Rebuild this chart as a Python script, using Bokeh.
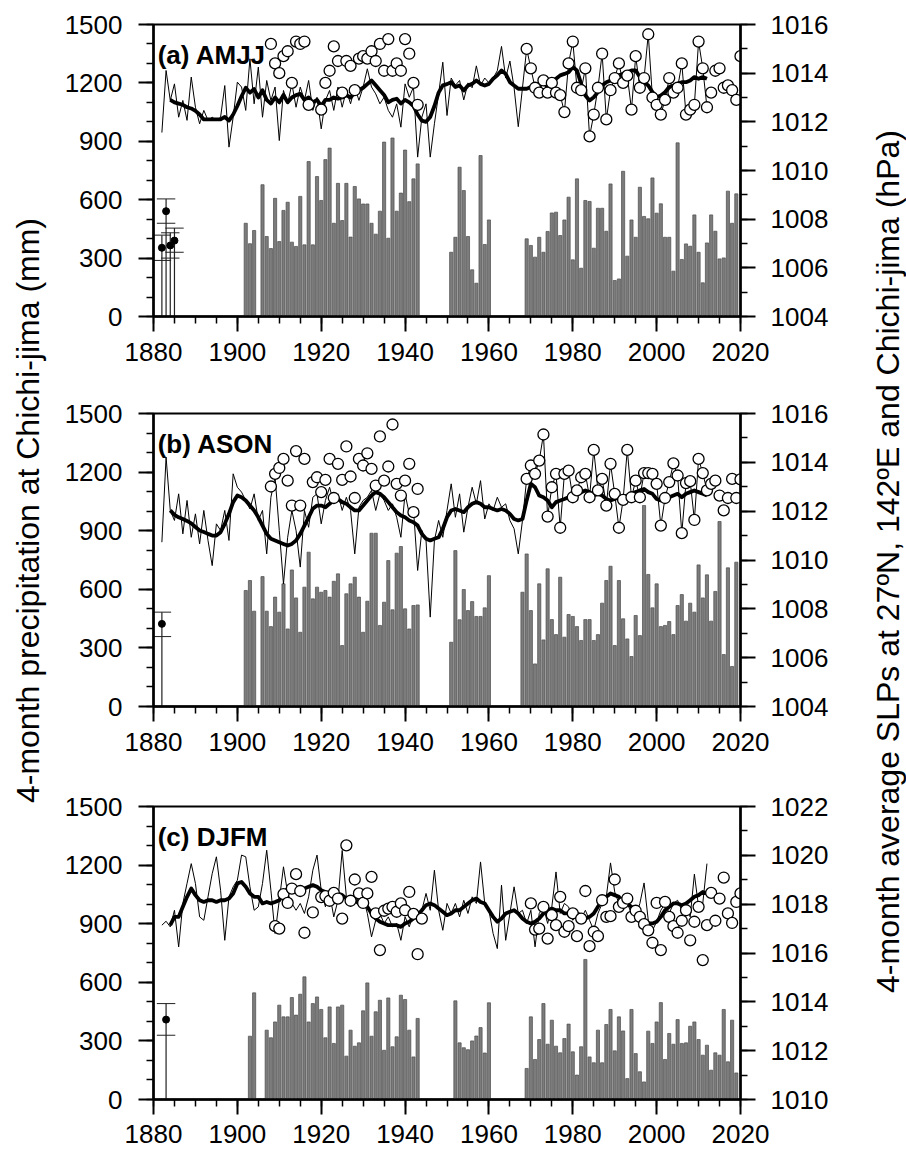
import math
from bokeh.plotting import figure
from bokeh.layouts import row, column
from bokeh.models import Range1d, LinearAxis, SingleIntervalTicker, Label
from bokeh.core.properties import value
from bokeh.embed import file_html
from bokeh.resources import INLINE

FONT = "Liberation Sans"
N = None

# ------------------------------------------------------------------ data
# ---- (a) AMJJ ----
a_bar1_start = 1902
a_bar1 = [479, 374, 442, N, 677, 411, 349, 607, 385, 545, 587, 382, 360, 617, 368, 796, 368, 719, 596, 806,
          865, 479, 684, 493, 684, 408, 668, 604, 578, 578, 479, 423, 541, 896, 402, 917, 541, 634, 855, 590,
          707, 784]
a_bar2_start = 1951
a_bar2 = [330, 407, 767, 647, 411, 240, 171, 827, 370, 496]
a_bar3_start = 1969
a_bar3 = [399, 365, 305, 407, 330, 437, 532, 536, 416, 496, 613, 291, 707, 248, 596, 591, 351, 556, 556, 438,
          681, 185, 193, 746, 310, 496, 407, 664, 514, 502, 712, 531, 579, 407, 407, 233, 892, 293, 373, 361,
          522, 330, 173, 378, 522, 438, 296, 301, 644, 479, 630]
a_early_years = [1882, 1883, 1884, 1885]
a_early_val = [353, 541, 365, 390]
a_early_hi = [418, 604, 430, 454]
a_early_lo = [288, 479, 300, 330]
a_thin_start = 1882
a_thin = [1011.56, 1014.11, 1012.88, 1013.56, 1012.19, 1012.88, 1012.06, 1013.84, 1012.60, 1011.92,
          1012.47, 1012.06, 1012.19, 1012.06, 1012.19, 1013.49, 1010.96, 1012.19, 1013.63, 1013.43,
          1012.47, 1014.59, 1012.74, 1014.25, 1012.19, 1013.70, 1012.88, 1013.43, 1011.23, 1013.29,
          1012.74, 1013.56, 1012.60, 1013.43, 1012.88, 1013.70, 1012.47, 1013.01, 1011.71, 1012.88,
          1013.29, 1012.47, 1013.43, 1012.60, 1013.29, 1012.74, 1013.43, 1012.88, 1013.43, 1014.18,
          1013.43, 1013.15, 1012.74, 1013.01, 1012.47, 1012.19, 1012.74, 1011.78, 1013.56, 1013.01,
          1013.43, 1010.55, 1012.19, 1012.74, 1010.55, 1011.92, 1013.15, 1014.45, 1012.26,
          1013.8, 1013.5, 1013.7, 1012.9, 1013.6, 1013.4, 1014.3, 1013.5, 1013.8, 1013.6,
          1013.8, 1014.1, 1015.1, 1013.8, 1014.5, 1013.4, 1011.8, 1013.4,
          1015.0, 1014.2, 1013.4, 1013.2, 1013.7, 1013.2, 1013.6, 1013.2, 1013.1, 1012.4,
          1014.4, 1015.3, 1013.4, 1013.3, 1014.2, 1011.4, 1012.3, 1013.4, 1014.8, 1012.1,
          1013.3, 1013.8, 1014.4, 1013.6, 1013.9, 1012.5, 1014.7, 1013.4, 1013.8, 1015.6,
          1013.0, 1012.7, 1012.3, 1012.9, 1013.8, 1013.2, 1013.4, 1014.4, 1012.3, 1012.5,
          1012.7, 1015.3, 1014.2, 1012.6]
a_thick_start = 1884
a_thick = [1012.9, 1012.8, 1012.75, 1012.7, 1012.6, 1012.55, 1012.45, 1012.3, 1012.1, 1012.1,
           1012.1, 1012.1, 1012.1, 1012.2, 1012.05, 1012.3, 1012.65, 1013.05, 1013.4, 1013.2,
           1013.35, 1013.0, 1013.3, 1012.9, 1012.75, 1013.0, 1012.8, 1013.1, 1012.8, 1013.0,
           1013.1, 1013.15, 1012.9, 1013.0, 1012.8, 1012.9, 1012.65, 1012.9, 1012.9, 1013.0,
           1012.95, 1013.0, 1013.1, 1013.0, 1013.2, 1013.3, 1013.4, 1013.55, 1013.7, 1013.5,
           1013.3, 1013.1, 1012.8, 1012.9, 1012.95, 1012.75, 1012.9, 1012.8, 1012.65, 1012.3,
           1012.05, 1012.0, 1012.2, 1012.65, 1013.2, 1013.5, 1013.55,
           1013.63, 1013.43, 1013.49, 1013.29, 1013.49, 1013.56, 1013.70, 1013.56, 1013.49, 1013.56,
           1013.77, 1013.91, 1014.11, 1013.97, 1013.63, 1013.49, 1013.36, 1013.36, 1013.36, 1013.43,
           1013.49, 1013.56, 1013.56, 1013.49, 1013.63, 1013.77, 1013.91, 1013.97, 1014.04, 1014.25,
           1014.11, 1013.56, 1013.08, 1012.88, 1013.01, 1013.22, 1013.49, 1013.63, 1013.70, 1013.84,
           1013.91, 1013.97, 1014.04, 1014.11, 1014.11, 1013.84, 1013.63, 1013.49, 1013.22, 1013.01,
           1013.08, 1013.22, 1013.43, 1013.49, 1013.56, 1013.63, 1013.63, 1013.70, 1013.84, 1013.77,
           1013.84, 1013.77]
a_circ1_start = 1908
a_circ1 = [1015.2, 1014.4, 1014.0, 1014.7, 1014.9, 1013.6, 1015.3, 1015.2, 1015.3, 1012.7,
           N, N, 1012.5, 1013.6, 1014.1, 1015.1, 1014.5, 1013.2, 1014.5, 1014.3,
           1013.3, 1014.6, 1014.7, 1014.6, 1014.9, 1014.5, 1015.2, 1014.1, 1015.4, 1014.1,
           1014.4, 1014.1, 1015.4, 1014.8, 1013.6, 1012.7]
a_circ2_start = 1969
a_circ2 = [1015.0, 1014.2, 1013.4, 1013.2, 1013.7, 1013.2, 1013.6, 1013.2, 1013.1, 1012.4,
           1014.4, 1015.3, 1013.4, 1013.3, 1014.2, 1011.4, 1012.3, 1013.4, 1014.8, 1012.1,
           1013.3, 1013.8, 1014.4, 1013.6, 1013.9, 1012.5, 1014.7, 1013.4, 1013.8, 1015.6,
           1013.0, 1012.7, 1012.3, 1012.9, 1013.8, 1013.2, 1013.4, 1014.4, 1012.3, 1012.5,
           1012.7, 1015.3, 1014.2, 1012.6, 1013.2, 1014.1, 1014.2, 1013.4, 1013.5, 1013.3,
           1012.9, 1014.7]

# ---- (b) ASON ----
b_bar1_start = 1902
b_bar1 = [594, 645, 488, N, 665, 488, 409, 560, 483, 628, 397, 699, 556, 380, 611, 790, 551, 611, 585, 594,
          560, 641, 679, 312, 577, 628, 662, 560, 380, 539, 887, 887, 415, 534, 747, 495, 785, 819, 500, 397,
          517, 520]
b_bar2_start = 1951
b_bar2 = [329, 798, 444, 599, 491, 537, 461, 461, 505, 670]
b_bar3_start = 1968
b_bar3 = [585, 781, 491, 218, 628, 341, 705, 445, 368, 662, 355, 471, 461, 409, 338, 445, 445, 338, 368, 529,
          645, 718, 312, 645, 449, 346, 256, 466, 363, 1029, 676, 505, 628, 409, 415, 435, 368, 517, 573, 437,
          529, 483, 725, 556, 674, 437, 589, 947, 266, 710, 205, 739]
b_early_years = [1882]
b_early_val = [423]
b_early_hi = [483]
b_early_lo = [358]
b_thin_start = 1882
b_thin = [1010.73, 1014.21, 1012.03, 1011.62, 1012.71, 1011.07, 1012.44, 1010.93, 1011.89, 1010.66,
          1012.03, 1010.80, 1009.77, 1011.48, 1011.21, 1012.03, 1010.80, 1013.53, 1012.98, 1012.78,
          1012.44, 1012.09, 1012.71, 1011.62, 1012.03, 1010.25, 1012.57, 1013.39, 1011.21, 1009.02,
          1010.93, 1012.03, 1011.21, 1009.71, 1012.03, 1011.34, 1012.57, 1012.71, 1011.48, 1012.44,
          1012.98, 1012.30, 1012.71, 1012.03, 1012.57, 1012.03, 1010.25, 1012.16, 1012.44, 1012.57,
          1012.85, 1012.03, 1012.71, 1012.44, 1012.03, 1012.30, 1011.75, 1010.93, 1012.71, 1011.89,
          1012.09, 1009.57, 1011.21, 1010.80, 1007.66, 1010.80, 1011.62, 1010.93, 1012.03,
          1013.12, 1011.75, 1012.71, 1011.14, 1012.16, 1012.98, 1012.30, 1013.25, 1011.68, 1012.30,
          1012.03, 1012.57, 1012.16, 1012.30, 1011.62, 1011.28, 1010.25, 1011.62,
          1013.32, 1013.87, 1013.53, 1014.07, 1015.14, 1011.78, 1012.98, 1013.53, 1011.32, 1013.53,
          1013.66, 1012.57, 1012.85, 1013.39, 1013.53, 1012.57, 1014.51, 1012.85, 1013.32, 1012.23,
          1013.94, 1012.71, 1011.32, 1012.46, 1014.51, 1012.57, 1013.25, 1012.57, 1013.56, 1013.56,
          1013.53, 1013.12, 1011.41, 1012.54, 1013.19, 1013.96, 1013.46, 1011.10, 1013.15, 1013.23,
          1011.64, 1014.14, 1013.56, 1012.85]
b_thick_start = 1884
b_thick = [1012.03, 1011.85, 1011.75, 1011.68, 1011.6, 1011.5, 1011.35, 1011.21, 1011.15, 1011.07,
           1011.0, 1011.0, 1011.14, 1011.48, 1011.89, 1012.37, 1012.64, 1012.57, 1012.44, 1012.23,
           1012.03, 1011.75, 1011.41, 1011.07, 1010.87, 1010.8, 1010.73, 1010.66, 1010.59, 1010.66,
           1010.8, 1011.07, 1011.41, 1011.75, 1012.1, 1012.23, 1012.23, 1012.16, 1012.3, 1012.44,
           1012.5, 1012.37, 1012.3, 1012.16, 1012.03, 1012.03, 1012.23, 1012.44, 1012.64, 1012.78,
           1012.71, 1012.57, 1012.37, 1012.16, 1011.96, 1011.82, 1011.75, 1011.62, 1011.55, 1011.41,
           1011.07, 1010.87, 1010.8, 1010.87, 1010.93, 1011.28, 1011.75,
           1012.03, 1012.09, 1012.03, 1011.96, 1012.16, 1012.30, 1012.37, 1012.30, 1012.16, 1012.16,
           1012.09, 1012.03, 1012.09, 1012.03, 1011.89, 1011.68, 1011.62, 1011.68, 1012.44, 1013.12,
           1012.98, 1012.64, 1012.57, 1012.44, 1012.16, 1012.37, 1012.44, 1012.50, 1012.57, 1012.64,
           1012.71, 1012.78, 1012.85, 1012.78, 1012.64, 1012.71, 1012.64, 1012.50, 1012.44, 1012.50,
           1012.57, 1012.57, 1012.64, 1012.71, 1012.78, 1012.85, 1012.91, 1012.78, 1012.71, 1012.50,
           1012.44, 1012.50, 1012.57, 1012.64, 1012.71, 1012.57, 1012.71, 1012.78, 1012.85, 1012.78,
           1012.71, 1012.64]
b_circ1_start = 1908
b_circ1 = [1013.01, 1013.53, 1013.77, 1014.14, 1013.25, 1012.23, 1014.46, 1012.23, 1014.14, N,
           1013.19, 1013.39, 1012.78, 1013.28, 1014.14, 1012.54, 1013.94, 1013.28, 1014.65, 1013.42,
           1012.54, 1014.14, 1013.87, 1014.37, 1013.73, 1013.05, 1015.06, 1013.25, 1013.83, 1015.55,
           1013.12, 1012.64, 1013.25, 1013.94, 1011.96, 1012.91]
b_circ2_start = 1969
b_circ2 = [1013.32, 1013.87, 1013.53, 1014.07, 1015.14, 1011.78, 1012.98, 1013.53, 1011.32, 1013.53,
           1013.66, 1012.57, 1012.85, 1013.39, 1013.53, 1012.57, 1014.51, 1012.85, 1013.32, 1012.23,
           1013.94, 1012.71, 1011.32, 1012.46, 1014.51, 1012.57, 1013.25, 1012.57, 1013.56, 1013.56,
           1013.53, 1013.12, 1011.41, 1012.54, 1013.19, 1013.96, 1013.46, 1011.10, 1013.15, 1013.23,
           1011.64, 1014.14, 1013.56, 1012.85, 1013.12, 1013.25, 1012.64, 1012.03, 1012.54, 1013.32,
           1012.54, 1013.3]

# ---- (c) DJFM ----
c_bar1_start = 1903
c_bar1 = [324, 546, N, N, 355, 316, 397, 483, 423, 423, 522, 432, 539, 628, 397, 491, 525, 461, 316, 474,
          287, 474, 483, 222, 355, 273, 290, 454, 597, 324, 449, 508, 252, 520, 270, 321, 534, 512, 355, 218,
          415]
c_bar2_start = 1952
c_bar2 = [505, 290, 265, 255, 300, 325, 368, 238, 495]
c_bar3_start = 1969
c_bar3 = [159, 423, 205, 307, 491, 283, 406, 273, 239, 312, 386, 244, 125, 270, 717, 218, 188, 355, 188, 384,
          461, 249, 423, 351, 107, 461, 235, 142, 90, 350, 287, 397, 496, 205, 338, 283, 409, 287, 290, 375,
          397, 307, 227, 278, 150, 239, 227, 461, 193, 406, 136]
c_early_years = [1883]
c_early_val = [409]
c_early_hi = [491]
c_early_lo = [329]
c_thin_start = 1882
c_thin = [1017.14, 1017.3, 1017.07, 1017.75, 1016.25, 1018.03, 1018.85, 1019.66, 1018.85, 1017.48,
          1017.34, 1018.30, 1019.25, 1019.94, 1018.57, 1016.52, 1018.30, 1018.71, 1018.98, 1020.01,
          1019.94, 1018.71, 1017.75, 1017.89, 1018.85, 1020.21, 1018.57, 1016.80, 1018.16, 1019.53,
          1018.44, 1018.03, 1017.75, 1018.03, 1017.62, 1018.30, 1019.39, 1020.01, 1018.57, 1017.89,
          1018.44, 1017.48, 1018.16, 1020.2, 1018.30, 1017.89, 1018.44, 1018.03, 1018.30, 1017.62,
          1016.66, 1017.34, 1017.62, 1017.21, 1017.48, 1017.07, 1017.21, 1016.52, 1017.48, 1017.07,
          1017.62, 1017.34, 1017.75, 1018.44, 1017.75, 1019.39, 1017.75, 1016.93, 1018.03,
          1017.62, 1018.03, 1017.48, 1018.16, 1017.62, 1018.30, 1018.03, 1019.73, 1018.03, 1017.75,
          1016.80, 1016.18, 1018.78, 1016.52, 1017.62, 1018.71, 1017.62, 1017.75, 1017.21, 1017.75,
          1016.25, 1017.62, 1017.89, 1017.21, 1017.89, 1019.32, 1017.62, 1018.03, 1017.89, 1017.34,
          1017.62, 1017.41, 1017.75, 1017.34, 1016.93, 1017.62, 1018.03, 1018.30, 1019.69, 1018.50,
          1018.03, 1018.16, 1018.03, 1017.62, 1017.48, 1018.03, 1018.87, 1017.34, 1016.93, 1017.28,
          1017.75, 1018.03, 1017.62, 1018.03, 1018.16, 1017.75, 1018.03, 1017.48, 1019.23, 1017.89,
          1018.03, 1019.66]
c_thick_start = 1884
c_thick = [1017.14, 1017.48, 1017.48, 1017.89, 1018.30, 1018.64, 1018.37, 1018.16, 1018.09, 1018.16,
           1018.16, 1018.09, 1018.16, 1018.16, 1018.23, 1018.44, 1018.85, 1018.91, 1018.71, 1018.44,
           1018.30, 1018.30, 1018.03, 1018.09, 1018.03, 1018.09, 1018.16, 1018.44, 1018.64, 1018.57,
           1018.50, 1018.57, 1018.64, 1018.71, 1018.78, 1018.71, 1018.57, 1018.50, 1018.44, 1018.37,
           1018.44, 1018.37, 1018.23, 1018.16, 1018.16, 1018.03, 1017.96, 1017.89, 1017.62, 1017.41,
           1017.28, 1017.21, 1017.14, 1017.14, 1017.14, 1017.07, 1017.21, 1017.28, 1017.41, 1017.55,
           1017.75, 1017.96, 1018.03, 1017.96, 1017.82, 1017.69, 1017.55,
           1017.62, 1017.75, 1017.75, 1017.89, 1018.03, 1018.16, 1018.23, 1018.09, 1018.03, 1017.75,
           1017.48, 1017.28, 1017.41, 1017.62, 1017.69, 1017.75, 1017.62, 1017.41, 1017.28, 1017.21,
           1017.28, 1017.41, 1017.62, 1017.75, 1017.82, 1017.75, 1017.75, 1017.62, 1017.62, 1017.69,
           1017.62, 1017.55, 1017.41, 1017.48, 1017.62, 1017.89, 1018.16, 1018.30, 1018.44, 1018.37,
           1018.30, 1018.09, 1018.03, 1017.89, 1017.75, 1017.55, 1017.34, 1017.21, 1017.21, 1017.28,
           1017.48, 1017.75, 1017.89, 1018.03, 1018.03, 1017.96, 1018.03, 1018.16, 1018.30, 1018.37,
           1018.50, 1018.44]
c_circ1_start = 1909
c_circ1 = [1017.10, 1017.00, 1018.41, 1018.05, 1018.64, 1019.23, 1018.54, 1016.83, N, 1017.66,
           N, 1018.29, 1018.33, 1018.14, 1018.46, 1018.23, 1017.41, 1020.41, 1018.14, 1019.01,
           1018.44, 1018.05, 1018.44, 1019.12, 1017.62, 1016.12, 1017.73, 1017.82, 1017.89, 1017.69,
           1018.03, 1017.75, 1018.50, 1017.6, 1015.95, 1017.41]
c_circ2_start = 1970
c_circ2 = [1018.03, 1016.96, 1017.00, 1017.89, 1016.59, 1017.55, 1017.14, 1018.30, 1016.87, 1017.10,
           1017.62, 1016.69, 1017.41, 1018.54, 1016.28, 1016.87, 1016.69, 1018.16, 1017.48, 1017.51,
           1019.01, 1017.89, 1018.05, 1018.23, 1017.48, 1017.73, 1017.48, 1017.18, 1016.93, 1016.42,
           1018.05, 1016.12, 1018.09, 1017.48, 1017.10, 1016.83, 1017.32, 1017.75, 1016.52, 1017.28,
           1017.89, 1015.71, 1017.14, 1018.46, 1017.32, 1018.23, 1019.09, 1017.62, 1017.23, 1018.09,
           1018.44]

panel_labels = ["(a) AMJJ", "(b) ASON", "(c) DJFM"]
slp_ranges = [(1004, 1016), (1004, 1016), (1010, 1022)]
y_label_left = "4-month precipitation at Chichi-jima (mm)"
y_label_right = "4-month average SLPs at 27ºN, 142ºE and Chichi-jima (hPa)"


def seg(start, vals):
    xs, ys = [], []
    for i, v in enumerate(vals):
        if v is not None:
            xs.append(start + i)
            ys.append(v)
    return xs, ys


def style_axis(ax, standoff):
    ax.axis_line_width = 2.5
    ax.axis_line_color = "black"
    ax.major_tick_line_width = 2
    ax.minor_tick_line_width = 1.5
    ax.major_tick_line_color = "black"
    ax.minor_tick_line_color = "black"
    ax.major_tick_out = 15
    ax.major_tick_in = 0
    ax.minor_tick_out = 7
    ax.minor_tick_in = 0
    ax.major_label_text_font = FONT
    ax.major_label_text_font_size = "26px"
    ax.major_label_text_color = "black"
    ax.major_label_standoff = standoff


PANEL_W = 805


def make_panel(idx, height, top, bottom, bottom_standoff, bars, early, thin, thick, circs):
    p = figure(width=PANEL_W, height=height, x_range=Range1d(1880, 2020), y_range=Range1d(0, 1500),
               toolbar_location=None, output_backend="svg",
               min_border_left=103, min_border_right=115, min_border_top=top, min_border_bottom=bottom)
    p.extra_y_ranges = {"slp": Range1d(*slp_ranges[idx])}
    p.xgrid.visible = False
    p.ygrid.visible = False
    p.outline_line_color = "black"
    p.outline_line_width = 2
    p.background_fill_color = "white"
    p.border_fill_color = "white"

    p.xaxis.ticker = SingleIntervalTicker(interval=20, num_minor_ticks=4)
    p.yaxis.ticker = SingleIntervalTicker(interval=300, num_minor_ticks=3)
    style_axis(p.xaxis[0], bottom_standoff)
    style_axis(p.yaxis[0], 16)
    rax = LinearAxis(y_range_name="slp", ticker=SingleIntervalTicker(interval=2, num_minor_ticks=2))
    style_axis(rax, 15)
    p.add_layout(rax, "right")

    # bars (precipitation)
    for start, vals in bars:
        xs, ys = seg(start, vals)
        p.vbar(x=xs, top=ys, bottom=0, width=0.75, fill_color="#7c7c7c", line_color="#4a4a4a",
               line_width=0.7)

    # early precipitation estimates with error bars
    ey, ev, ehi, elo = early
    p.segment(x0=ey, y0=[0] * len(ey), x1=ey, y1=ehi, line_color="#222222", line_width=1.2)
    p.segment(x0=[y - 2.2 for y in ey], y0=ehi, x1=[y + 2.2 for y in ey], y1=ehi,
              line_color="#222222", line_width=1)
    p.segment(x0=[y - 2.2 for y in ey], y0=elo, x1=[y + 2.2 for y in ey], y1=elo,
              line_color="#222222", line_width=1)
    p.scatter(x=ey, y=ev, size=7, marker="circle", fill_color="black", line_color="black")

    # SLP lines
    xs, ys = seg(*thin)
    p.line(xs, ys, y_range_name="slp", line_color="black", line_width=1.0)
    xs, ys = seg(*thick)
    p.line(xs, ys, y_range_name="slp", line_color="black", line_width=3.8, line_join="round")

    # Chichi-jima SLP
    for start, vals in circs:
        xs, ys = seg(start, vals)
        p.scatter(x=xs, y=ys, y_range_name="slp", size=11, marker="circle",
                  fill_color="white", line_color="black", line_width=1.3)

    p.add_layout(Label(x=1881, y=1345, text=panel_labels[idx], text_font=FONT,
                       text_font_size="26px", text_font_style="bold", text_color="black",
                       text_baseline="alphabetic", text_align="left"))
    return p


pa = make_panel(0, 397, 24, 81, 11,
                [(a_bar1_start, a_bar1), (a_bar2_start, a_bar2), (a_bar3_start, a_bar3)],
                (a_early_years, a_early_val, a_early_hi, a_early_lo),
                (a_thin_start, a_thin), (a_thick_start, a_thick),
                [(a_circ1_start, a_circ1), (a_circ2_start, a_circ2)])
pb = make_panel(1, 391, 16, 82, 11,
                [(b_bar1_start, b_bar1), (b_bar2_start, b_bar2), (b_bar3_start, b_bar3)],
                (b_early_years, b_early_val, b_early_hi, b_early_lo),
                (b_thin_start, b_thin), (b_thick_start, b_thick),
                [(b_circ1_start, b_circ1), (b_circ2_start, b_circ2)])
pc = make_panel(2, 366, 18, 55, 10,
                [(c_bar1_start, c_bar1), (c_bar2_start, c_bar2), (c_bar3_start, c_bar3)],
                (c_early_years, c_early_val, c_early_hi, c_early_lo),
                (c_thin_start, c_thin), (c_thick_start, c_thick),
                [(c_circ1_start, c_circ1), (c_circ2_start, c_circ2)])

TOTAL_H = 397 + 391 + 366


def label_fig(width, text, x, y):
    f = figure(width=width, height=TOTAL_H, x_range=Range1d(0, width), y_range=Range1d(0, TOTAL_H),
               toolbar_location=None, output_backend="svg", x_axis_type=None, y_axis_type=None,
               min_border=0)
    f.outline_line_color = None
    f.background_fill_color = "white"
    f.border_fill_color = "white"
    f.text(x=[x], y=[y], text=[text], angle=math.pi / 2, text_align="center", text_baseline="middle",
           text_font=value(FONT), text_font_size="32px", text_color="black")
    return f


left = label_fig(50, y_label_left, 27, TOTAL_H - 510)
right = label_fig(51, y_label_right, 32, TOTAL_H - 561)

layout = row(left, column(pa, pb, pc), right)
open("out.html", "w").write(file_html(layout, INLINE))
